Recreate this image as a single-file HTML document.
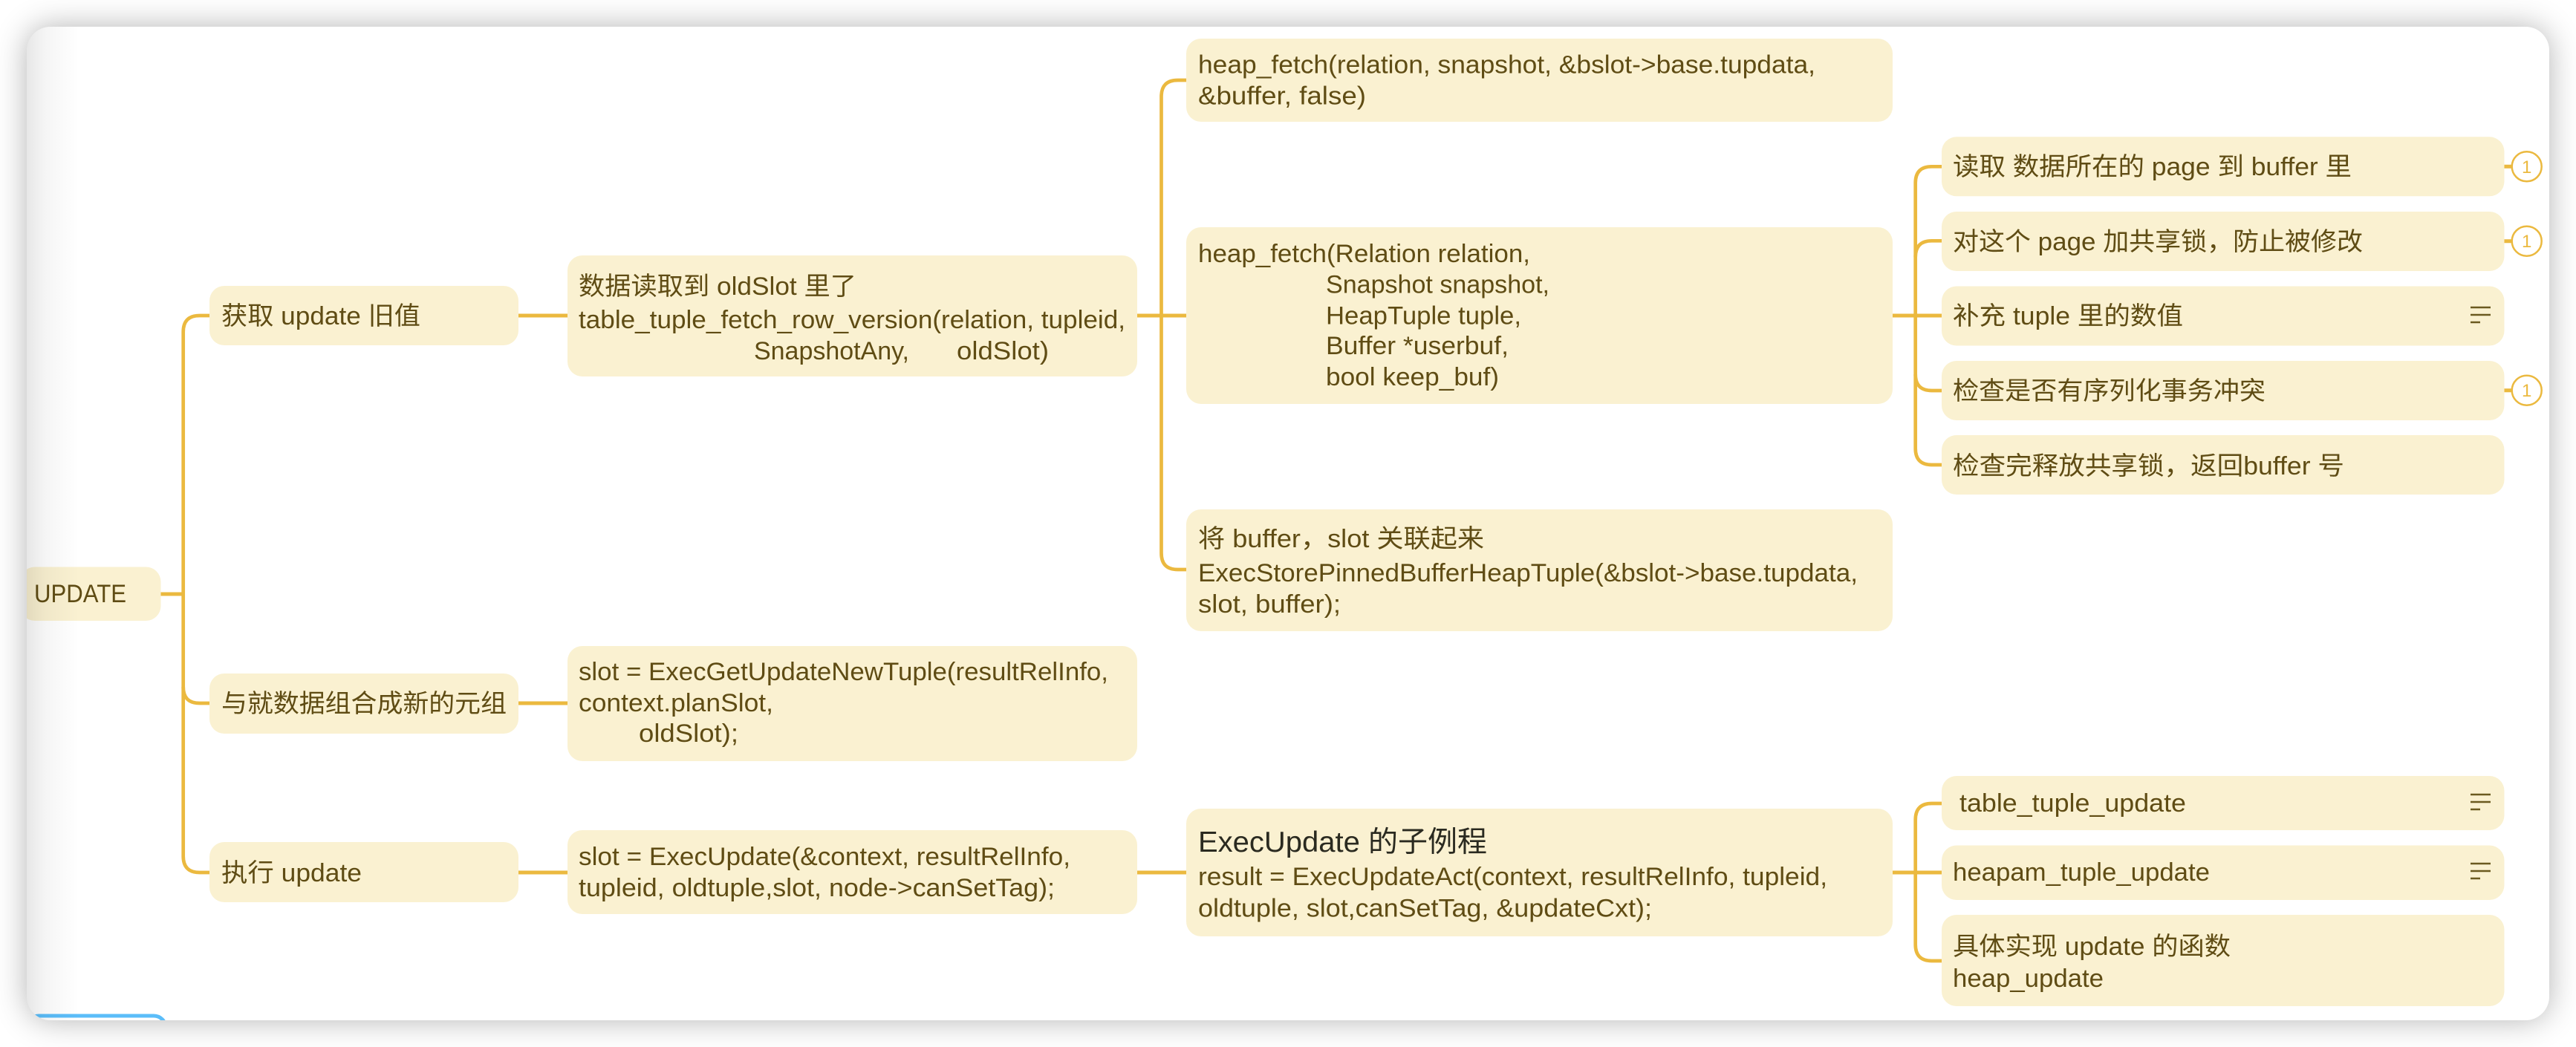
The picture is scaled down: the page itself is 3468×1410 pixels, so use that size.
<!DOCTYPE html>
<html lang="zh"><head><meta charset="utf-8"><title>UPDATE</title>
<style>
html,body{margin:0;padding:0;background:#fff;width:3468px;height:1410px;overflow:hidden}
#card{position:absolute;left:36px;top:36px;width:3396px;height:1338px;background:#fff;border-radius:32px;box-shadow:0 0 42px rgba(0,0,0,.3);overflow:hidden}
#card svg{position:absolute;left:-36px;top:-36px}
#shade{position:absolute;left:0;top:0;width:70px;height:100%;background:linear-gradient(90deg,rgba(0,0,0,.095),rgba(0,0,0,.04) 35%,rgba(0,0,0,0))}
text{font-family:"Liberation Sans","Noto Sans CJK SC",sans-serif;font-size:34px;fill:#5f4c14;white-space:pre}
.h{font-size:39px;fill:#2a2a20}
.c{font-size:24px;fill:#ebb93f;text-anchor:middle}
.n{fill:#faf1d1}
.l{fill:none;stroke:#ebb93f;stroke-width:4.7}
.s{fill:none;stroke:#ebb93f;stroke-width:5}
.m{stroke:#6b5a20;stroke-width:2.5}
.o{fill:#fff;stroke:#ebb93f;stroke-width:2.5}
</style></head><body>
<div id="card">
<svg width="3468" height="1410" viewBox="0 0 3468 1410" xmlns="http://www.w3.org/2000/svg">
<!-- connectors -->
<path class="s" d="M216 800H246"/>
<path class="l" d="M282 425H268.700Q246.700 425 246.700 447V1153Q246.700 1175 268.700 1175H282"/>
<path class="l" d="M246.700 925Q246.700 947 268.700 947H282"/>
<path class="s" d="M698 425H764M698 947H764M698 1175H764"/>
<path class="s" d="M1531 425H1598M1531 1175H1598"/>
<path class="l" d="M1598 108H1585.500Q1563.500 108 1563.500 130V745Q1563.500 767 1585.500 767H1598"/>
<path class="s" d="M2548 425H2614M2548 1175H2614"/>
<path class="l" d="M2614 224.300H2600.700Q2578.700 224.300 2578.700 246.300V604Q2578.700 626 2600.700 626H2614"/>
<path class="l" d="M2578.700 346.300Q2578.700 324.300 2600.700 324.300H2614"/>
<path class="l" d="M2578.700 504Q2578.700 526 2600.700 526H2614"/>
<path class="l" d="M2614 1082H2600.700Q2578.700 1082 2578.700 1104V1272Q2578.700 1294 2600.700 1294H2614"/>
<path class="s" d="M3371 224.300H3382M3371 324.700H3382M3371 525.700H3382"/>
<!-- nodes -->
<rect class="n" x="27" y="763.500" width="189.500" height="72.500" rx="20"/>
<rect class="n" x="282" y="385" width="416" height="80" rx="20"/>
<rect class="n" x="282" y="907" width="416" height="81" rx="20"/>
<rect class="n" x="282" y="1134" width="416" height="81" rx="20"/>
<rect class="n" x="764" y="344" width="767" height="163" rx="20"/>
<rect class="n" x="764" y="870" width="767" height="155" rx="20"/>
<rect class="n" x="764" y="1118" width="767" height="113" rx="20"/>
<rect class="n" x="1597" y="52" width="951" height="112" rx="20"/>
<rect class="n" x="1597" y="306" width="951" height="238" rx="20"/>
<rect class="n" x="1597" y="686" width="951" height="164" rx="20"/>
<rect class="n" x="1597" y="1089" width="951" height="172" rx="20"/>
<rect class="n" x="2614" y="184.300" width="757.500" height="80" rx="20"/>
<rect class="n" x="2614" y="285" width="757.500" height="80" rx="20"/>
<rect class="n" x="2614" y="385.500" width="757.500" height="80" rx="20"/>
<rect class="n" x="2614" y="486" width="757.500" height="80" rx="20"/>
<rect class="n" x="2614" y="586" width="757.500" height="80" rx="20"/>
<rect class="n" x="2614" y="1045" width="757.500" height="73" rx="20"/>
<rect class="n" x="2614" y="1138.500" width="757.500" height="73.500" rx="20"/>
<rect class="n" x="2614" y="1232" width="757.500" height="123" rx="20"/>
<!-- badges -->
<circle class="o" cx="3401.700" cy="224.300" r="20"/><text class="c" x="3401.700" y="232.800">1</text>
<circle class="o" cx="3401.700" cy="324.700" r="20"/><text class="c" x="3401.700" y="333.200">1</text>
<circle class="o" cx="3401.700" cy="525.700" r="20"/><text class="c" x="3401.700" y="534.200">1</text>
<!-- menu icons -->
<path class="m" d="M3326 414H3353M3326 424H3353M3326 434H3339"/>
<path class="m" d="M3326 1070H3353M3326 1080H3353M3326 1090H3339"/>
<path class="m" d="M3326 1163H3353M3326 1173H3353M3326 1183H3339"/>
<!-- blue tab -->
<rect x="36" y="1368" width="187" height="40" rx="16" fill="none" stroke="#5bbdf9" stroke-width="5"/>
<!-- text -->
<text x="46" y="811" textLength="124" lengthAdjust="spacingAndGlyphs">UPDATE</text>
<text x="298" y="437" textLength="268" lengthAdjust="spacingAndGlyphs">获取 update 旧值</text>
<text x="298" y="959" textLength="384" lengthAdjust="spacingAndGlyphs">与就数据组合成新的元组</text>
<text x="298" y="1187" textLength="189" lengthAdjust="spacingAndGlyphs">执行 update</text>
<text x="779" y="397" textLength="374" lengthAdjust="spacingAndGlyphs">数据读取到 oldSlot 里了</text>
<text x="779" y="442" textLength="736" lengthAdjust="spacingAndGlyphs">table_tuple_fetch_row_version(relation, tupleid,</text>
<text x="1015" y="484" textLength="209" lengthAdjust="spacingAndGlyphs">SnapshotAny,</text>
<text x="1288" y="484" textLength="124" lengthAdjust="spacingAndGlyphs">oldSlot)</text>
<text x="779" y="916" textLength="713" lengthAdjust="spacingAndGlyphs">slot = ExecGetUpdateNewTuple(resultRelInfo,</text>
<text x="779" y="958" textLength="262" lengthAdjust="spacingAndGlyphs">context.planSlot,</text>
<text x="860" y="999" textLength="134" lengthAdjust="spacingAndGlyphs">oldSlot);</text>
<text x="779" y="1165" textLength="662" lengthAdjust="spacingAndGlyphs">slot = ExecUpdate(&amp;context, resultRelInfo,</text>
<text x="779" y="1207" textLength="641" lengthAdjust="spacingAndGlyphs">tupleid, oldtuple,slot, node-&gt;canSetTag);</text>
<text x="1613" y="98.300" textLength="831" lengthAdjust="spacingAndGlyphs">heap_fetch(relation, snapshot, &amp;bslot-&gt;base.tupdata,</text>
<text x="1613" y="140.700" textLength="226" lengthAdjust="spacingAndGlyphs">&amp;buffer, false)</text>
<text x="1613" y="353" textLength="447" lengthAdjust="spacingAndGlyphs">heap_fetch(Relation relation,</text>
<text x="1785" y="394.500" textLength="301" lengthAdjust="spacingAndGlyphs">Snapshot snapshot,</text>
<text x="1785" y="436.500" textLength="263" lengthAdjust="spacingAndGlyphs">HeapTuple tuple,</text>
<text x="1785" y="477" textLength="246" lengthAdjust="spacingAndGlyphs">Buffer *userbuf,</text>
<text x="1785" y="519" textLength="233" lengthAdjust="spacingAndGlyphs">bool keep_buf)</text>
<text x="1613" y="737" textLength="385" lengthAdjust="spacingAndGlyphs">将 buffer，slot 关联起来</text>
<text x="1613" y="783" textLength="888" lengthAdjust="spacingAndGlyphs">ExecStorePinnedBufferHeapTuple(&amp;bslot-&gt;base.tupdata,</text>
<text x="1613" y="825" textLength="192" lengthAdjust="spacingAndGlyphs">slot, buffer);</text>
<text class="h" x="1613" y="1147" textLength="389" lengthAdjust="spacingAndGlyphs">ExecUpdate 的子例程</text>
<text x="1613" y="1192" textLength="847" lengthAdjust="spacingAndGlyphs">result = ExecUpdateAct(context, resultRelInfo, tupleid,</text>
<text x="1613" y="1234.500" textLength="611" lengthAdjust="spacingAndGlyphs">oldtuple, slot,canSetTag, &amp;updateCxt);</text>
<text x="2629" y="236" textLength="537" lengthAdjust="spacingAndGlyphs">读取 数据所在的 page 到 buffer 里</text>
<text x="2629" y="337" textLength="552" lengthAdjust="spacingAndGlyphs">对这个 page 加共享锁，防止被修改</text>
<text x="2629" y="437" textLength="310" lengthAdjust="spacingAndGlyphs">补充 tuple 里的数值</text>
<text x="2629" y="538" textLength="421" lengthAdjust="spacingAndGlyphs">检查是否有序列化事务冲突</text>
<text x="2629" y="639" textLength="527" lengthAdjust="spacingAndGlyphs">检查完释放共享锁，返回buffer 号</text>
<text x="2638" y="1093" textLength="305" lengthAdjust="spacingAndGlyphs">table_tuple_update</text>
<text x="2629" y="1186" textLength="346" lengthAdjust="spacingAndGlyphs">heapam_tuple_update</text>
<text x="2629" y="1286" textLength="374" lengthAdjust="spacingAndGlyphs">具体实现 update 的函数</text>
<text x="2629" y="1329" textLength="203" lengthAdjust="spacingAndGlyphs">heap_update</text>
</svg>
<div id="shade"></div>
</div>
</body></html>
